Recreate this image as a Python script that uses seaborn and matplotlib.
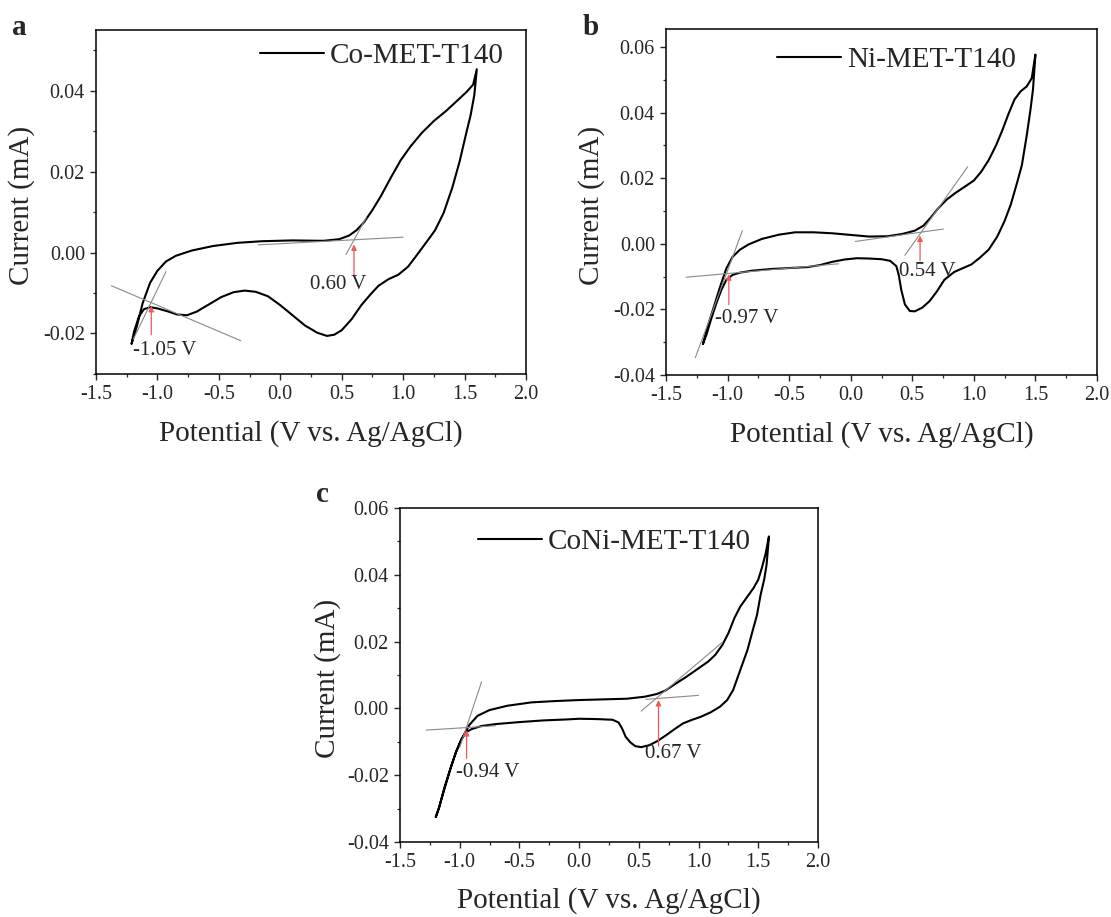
import pandas as pd
import seaborn as sns
import matplotlib.pyplot as plt
from matplotlib.ticker import MultipleLocator, FormatStrFormatter

# ---- panel a: Co-MET-T140 ----
a_fwd_v = [-1.21, -1.17, -1.12, -1.06, -1.00, -0.93, -0.85, -0.72, -0.55, -0.35, -0.15, 0.10, 0.35, 0.48,
           0.56, 0.62, 0.68, 0.75, 0.82, 0.90, 0.98, 1.06, 1.15, 1.25, 1.35, 1.45, 1.52, 1.57, 1.60]
a_fwd_i = [-0.0225, -0.0185, -0.0125, -0.0075, -0.0045, -0.0022, -0.0008, 0.0005, 0.0016, 0.0024, 0.0028,
           0.0030, 0.0029, 0.0033, 0.0042, 0.0055, 0.0074, 0.0105, 0.0140, 0.0185, 0.0228, 0.0262, 0.0295,
           0.0325, 0.0350, 0.0378, 0.0398, 0.0415, 0.0453]
a_rev_v = [1.60, 1.58, 1.55, 1.51, 1.46, 1.40, 1.33, 1.26, 1.20, 1.12, 1.04, 0.96, 0.88, 0.80, 0.73, 0.66,
           0.58, 0.50, 0.44, 0.38, 0.30, 0.20, 0.10, 0.00, -0.10, -0.20, -0.29, -0.38, -0.48, -0.58, -0.68,
           -0.76, -0.84, -0.92, -1.00, -1.06, -1.11, -1.15, -1.19, -1.21]
a_rev_i = [0.0453, 0.0390, 0.0340, 0.0290, 0.0225, 0.0160, 0.0098, 0.0055, 0.0030, -0.0003, -0.0035,
           -0.0055, -0.0066, -0.0082, -0.0105, -0.0130, -0.0165, -0.0192, -0.0203, -0.0206, -0.0198,
           -0.0180, -0.0155, -0.0130, -0.0108, -0.0097, -0.0094, -0.0098, -0.0110, -0.0128, -0.0146,
           -0.0155, -0.0153, -0.0145, -0.0138, -0.0135, -0.0140, -0.0158, -0.0195, -0.0225]
a_tangents = [((-1.375, -0.0082), (-0.32, -0.0218)), ((-1.196, -0.0214), (-0.93, -0.0047)),
              ((-0.18, 0.0019), (1.0, 0.0038)), ((0.535, -0.0005), (0.703, 0.0088))]
a_onsets = [(-1.05, -0.0203, -0.0132, '-1.05 V'), (0.60, -0.0056, 0.0020, '0.60 V')]

# ---- panel b: Ni-MET-T140 ----
b_fwd_v = [-1.20, -1.16, -1.11, -1.06, -1.01, -0.96, -0.90, -0.83, -0.72, -0.58, -0.45, -0.30, -0.15,
           0.00, 0.15, 0.30, 0.42, 0.52, 0.59, 0.65, 0.71, 0.78, 0.85, 0.93, 1.00, 1.06, 1.12, 1.18, 1.23,
           1.28, 1.33, 1.38, 1.43, 1.47, 1.50]
b_fwd_i = [-0.0305, -0.0250, -0.0190, -0.0130, -0.0075, -0.0040, -0.0018, -0.0002, 0.0015, 0.0028,
           0.0035, 0.0035, 0.0032, 0.0027, 0.0022, 0.0023, 0.0030, 0.0040, 0.0055, 0.0080, 0.0108,
           0.0135, 0.0155, 0.0175, 0.0193, 0.0220, 0.0255, 0.0300, 0.0345, 0.0395, 0.0440, 0.0465,
           0.0480, 0.0505, 0.0577]
b_rev_v = [1.50, 1.48, 1.46, 1.43, 1.39, 1.35, 1.30, 1.25, 1.19, 1.12, 1.05, 0.98, 0.90, 0.84, 0.80,
           0.76, 0.70, 0.64, 0.58, 0.52, 0.48, 0.44, 0.41, 0.39, 0.37, 0.32, 0.25, 0.15, 0.05, -0.05,
           -0.15, -0.25, -0.35, -0.50, -0.65, -0.80, -0.90, -0.96, -1.01, -1.05, -1.09, -1.13, -1.17, -1.20]
b_rev_i = [0.0577, 0.0470, 0.0410, 0.0332, 0.0240, 0.0185, 0.0120, 0.0070, 0.0022, -0.0018, -0.0042,
           -0.0063, -0.0076, -0.0086, -0.0098, -0.0110, -0.0145, -0.0175, -0.0195, -0.0206, -0.0205,
           -0.0185, -0.0140, -0.0095, -0.0068, -0.0052, -0.0047, -0.0045, -0.0044, -0.0048, -0.0055,
           -0.0065, -0.0071, -0.0074, -0.0077, -0.0082, -0.0088, -0.0095, -0.0110, -0.0140, -0.0180,
           -0.0225, -0.0275, -0.0305]
b_tangents = [((-1.338, -0.0102), (-0.098, -0.0061)), ((-1.262, -0.0347), (-0.88, 0.0040)),
              ((0.036, 0.0007), (0.753, 0.0045)), ((0.44, -0.0035), (0.95, 0.0235))]
b_onsets = [(-0.99, -0.0186, -0.0093, '-0.97 V'), (0.563, -0.0052, 0.0025, '0.54 V')]

# ---- panel c: CoNi-MET-T140 ----
c_fwd_v = [-1.20, -1.17, -1.13, -1.08, -1.03, -0.98, -0.92, -0.85, -0.75, -0.60, -0.40, -0.20, 0.00,
           0.20, 0.40, 0.55, 0.65, 0.72, 0.80, 0.90, 1.00, 1.08, 1.14, 1.20, 1.25, 1.30, 1.35, 1.41, 1.46,
           1.50, 1.53, 1.56, 1.59]
c_fwd_i = [-0.0325, -0.0295, -0.0240, -0.0183, -0.0130, -0.0090, -0.0050, -0.0022, -0.0005, 0.0008,
           0.0018, 0.0022, 0.0025, 0.0027, 0.0029, 0.0035, 0.0043, 0.0053, 0.0072, 0.0095, 0.0120,
           0.0140, 0.0160, 0.0190, 0.0225, 0.0270, 0.0305, 0.0335, 0.0360, 0.0385, 0.0420, 0.0460, 0.0515]
c_rev_v = [1.59, 1.57, 1.55, 1.52, 1.49, 1.45, 1.41, 1.37, 1.33, 1.29, 1.24, 1.18, 1.10, 1.02, 0.94,
           0.87, 0.80, 0.73, 0.66, 0.59, 0.52, 0.47, 0.43, 0.39, 0.36, 0.33, 0.28, 0.15, 0.00, -0.10,
           -0.30, -0.50, -0.70, -0.82, -0.90, -0.95, -0.99, -1.03, -1.07, -1.11, -1.15, -1.18, -1.20]
c_rev_i = [0.0515, 0.0430, 0.0386, 0.0340, 0.0280, 0.0228, 0.0175, 0.0135, 0.0095, 0.0055, 0.0025,
           0.0005, -0.0012, -0.0025, -0.0035, -0.0045, -0.0062, -0.0080, -0.0097, -0.0110, -0.0116,
           -0.0113, -0.0102, -0.0085, -0.0060, -0.0042, -0.0034, -0.0032, -0.0031, -0.0033, -0.0036,
           -0.0041, -0.0047, -0.0053, -0.0062, -0.0072, -0.0095, -0.0130, -0.0172, -0.0220, -0.0268,
           -0.0305, -0.0325]
c_tangents = [((-1.282, -0.0065), (-0.70, -0.0052)), ((-1.0, -0.0117), (-0.816, 0.0080)),
              ((0.56, 0.0027), (1.0, 0.0039)), ((0.52, -0.0008), (1.20, 0.0198))]
c_onsets = [(-0.942, -0.0150, -0.0065, '-0.94 V'), (0.665, -0.0113, 0.0025, '0.67 V')]

sns.set_style('ticks')
plt.rcParams['font.family'] = ['Liberation Serif', 'DejaVu Serif']
plt.rcParams['axes.unicode_minus'] = False

fig = plt.figure(figsize=(11.11, 9.17), dpi=100)

panels = [
    dict(letter='a', name='Co-MET-T140', rect=[0.0864, 0.5922, 0.387, 0.3751], ylim=(-0.03, 0.055),
         fv=a_fwd_v, fi=a_fwd_i, rv=a_rev_v, ri=a_rev_i, tang=a_tangents, ons=a_onsets,
         lab=[(-1.196, -0.0243), (0.242, -0.0080)], leg=(0.381, 0.924), let_xy=(12, 35)),
    dict(letter='b', name='Ni-MET-T140', rect=[0.5995, 0.5911, 0.3879, 0.3773], ylim=(-0.04, 0.0655),
         fv=b_fwd_v, fi=b_fwd_i, rv=b_rev_v, ri=b_rev_i, tang=b_tangents, ons=b_onsets,
         lab=[(-1.102, -0.0228), (0.395, -0.0084)], leg=(0.257, 0.910), let_xy=(583, 35)),
    dict(letter='c', name='CoNi-MET-T140', rect=[0.360, 0.0818, 0.3762, 0.3642], ylim=(-0.04, 0.06),
         fv=c_fwd_v, fi=c_fwd_i, rv=c_rev_v, ri=c_rev_i, tang=c_tangents, ons=c_onsets,
         lab=[(-1.028, -0.0191), (0.553, -0.0136)], leg=(0.186, 0.898), let_xy=(316, 502)),
]

for p in panels:
    ax = fig.add_axes(p['rect'])
    df = pd.DataFrame({'Potential': p['fv'] + p['rv'], 'Current': p['fi'] + p['ri']})
    sns.lineplot(data=df, x='Potential', y='Current', sort=False, estimator=None, ax=ax,
                 color='black', lw=1.5, label=p['name'])
    for (x0, y0), (x1, y1) in p['tang']:
        ax.plot([x0, x1], [y0, y1], color='#8a8a8a', lw=0.8)
    for (v, tail, tip, txt), (tx, ty) in zip(p['ons'], p['lab']):
        ax.annotate('', xy=(v, tip), xytext=(v, tail),
                    arrowprops=dict(arrowstyle='-|>', color='#ee5a5a', lw=0.9, mutation_scale=8,
                                    shrinkA=0, shrinkB=0))
        ax.text(tx, ty, txt, fontsize=15, ha='left', va='center')

    ax.set_xlim(-1.5, 2.0)
    ax.set_ylim(*p['ylim'])
    ax.xaxis.set_major_locator(MultipleLocator(0.5))
    ax.xaxis.set_minor_locator(MultipleLocator(0.25))
    ax.yaxis.set_major_locator(MultipleLocator(0.02))
    ax.yaxis.set_minor_locator(MultipleLocator(0.01))
    ax.xaxis.set_major_formatter(FormatStrFormatter('%.1f'))
    ax.yaxis.set_major_formatter(FormatStrFormatter('%.2f'))
    ax.tick_params(which='major', direction='out', length=4, width=1, labelsize=14.5, pad=4)
    ax.tick_params(which='minor', direction='out', length=2.2, width=0.9)
    for s in ax.spines.values():
        s.set_linewidth(1.1)
        s.set_color('black')

    ax.set_xlabel('Potential (V vs. Ag/AgCl)', fontsize=21)
    ax.set_ylabel('Current (mA)', fontsize=21)
    ax.xaxis.set_label_coords(0.5, -0.134)
    ax.yaxis.set_label_coords(-0.141, 0.49)

    ax.legend(loc='center left', bbox_to_anchor=p['leg'], frameon=False, fontsize=21,
              handlelength=2.2, handletextpad=0.2, borderpad=0, borderaxespad=0)

    lx, ly = p['let_xy']
    fig.text(lx / 1111, 1 - ly / 917, p['letter'], fontsize=21, fontweight='bold', va='baseline')

fig.savefig('out.png', dpi=100)
